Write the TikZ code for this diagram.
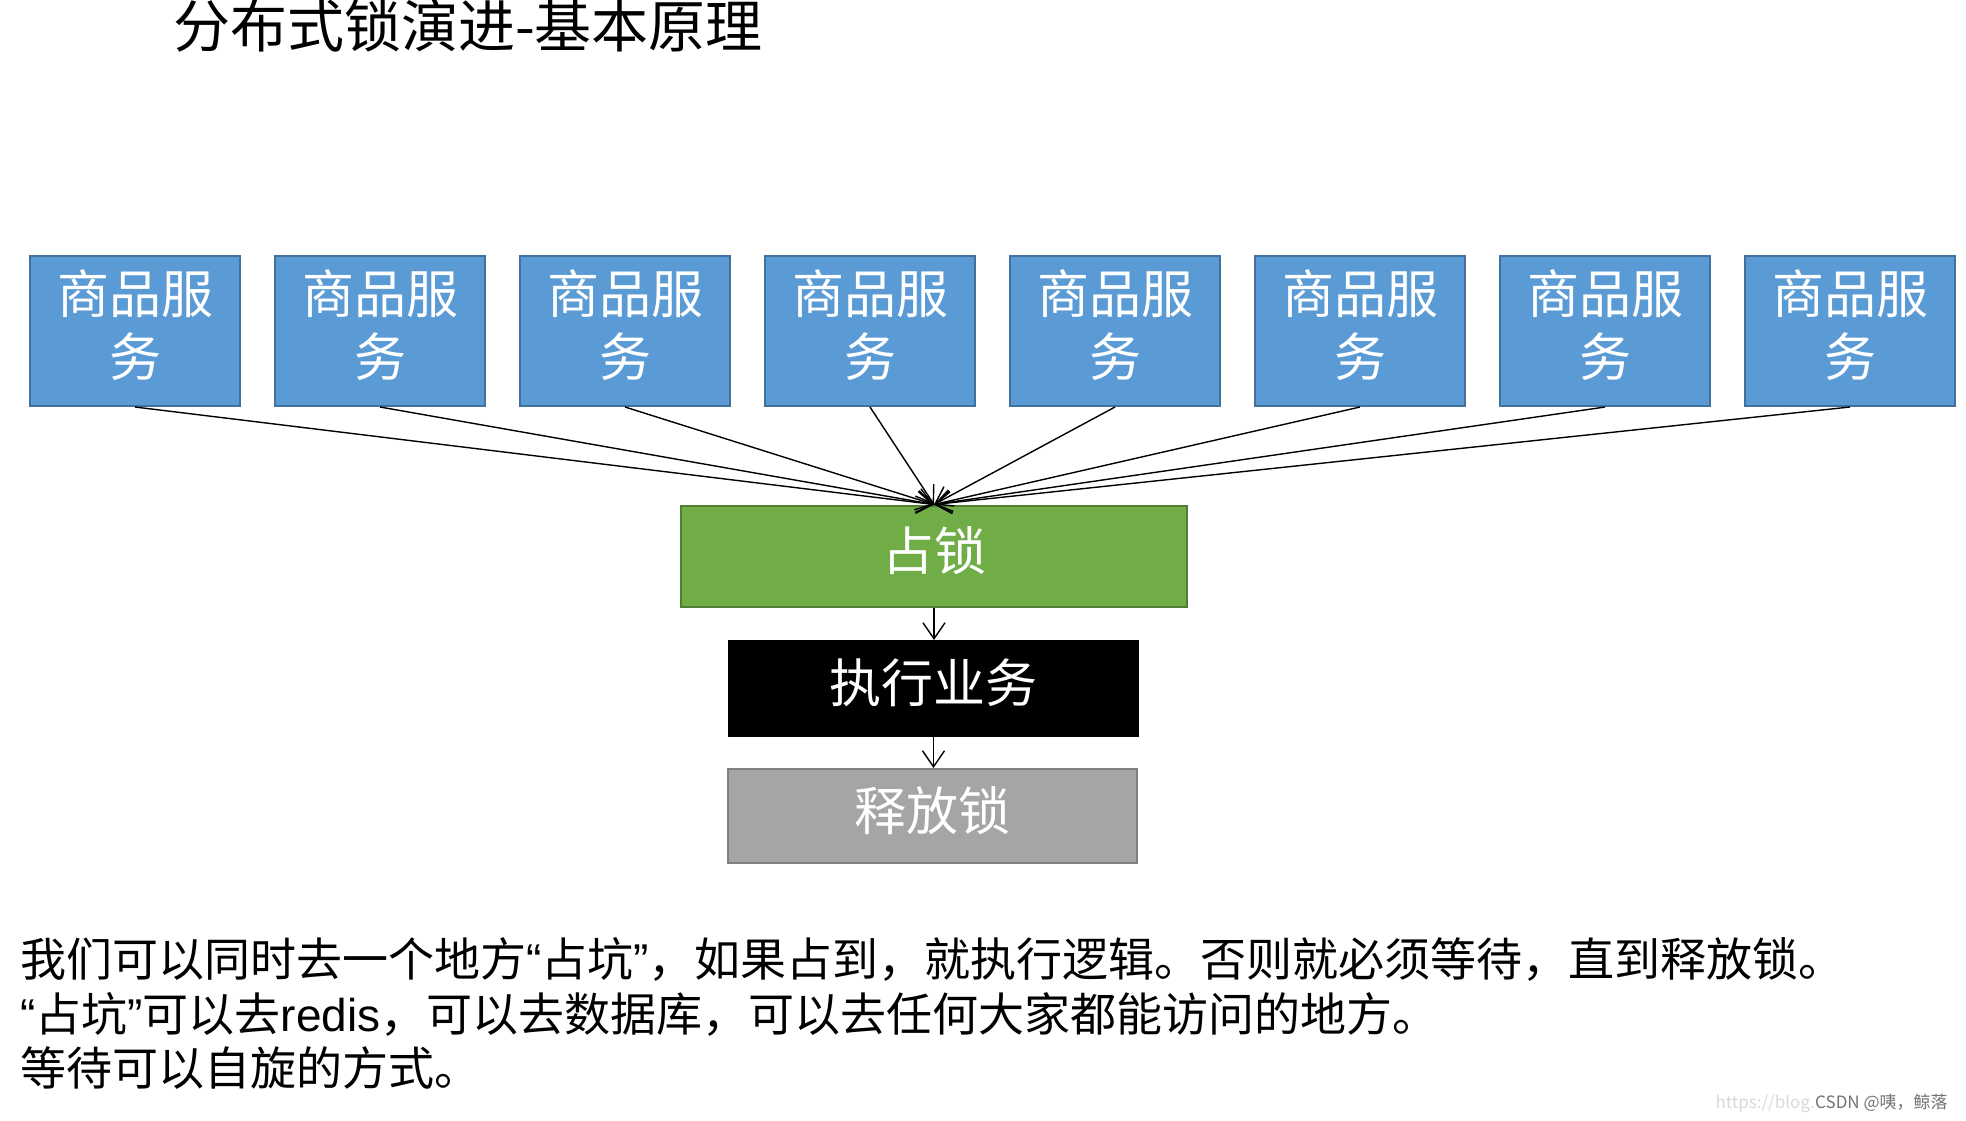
\documentclass[tikz,border=0pt]{standalone}
\usepackage{fontspec}
\setmainfont{Noto Sans CJK SC}
\newfontfamily\latinfont{Liberation Sans}
\usetikzlibrary{arrows.meta}

\definecolor{svcblue}{HTML}{5B9BD5}
\definecolor{svcedge}{HTML}{41719C}
\definecolor{lockgreen}{HTML}{70AD47}
\definecolor{lockedge}{HTML}{507E32}
\definecolor{relgray}{HTML}{A5A5A5}
\definecolor{reledge}{HTML}{7F7F7F}

% narrow western quotes inside the chinese text
\newcommand{\openq}{{\latinfont “}}
\newcommand{\closeq}{{\latinfont ”}}

\begin{document}
\begin{tikzpicture}[x=1pt,y=-1pt,
  svc/.style={draw=svcedge, line width=2pt, fill=svcblue, minimum width=210pt,
    minimum height=150pt, inner sep=0pt},
  boxtext/.style={inner sep=0pt, text=white, align=center, yshift=5.5pt,
    font=\fontsize{52}{63}\selectfont},
  stepbox/.style={line width=2pt, inner sep=0pt},
  flow/.style={draw=black, line width=1.4pt,
    -{Straight Barb[length=16pt,width=22pt]}},
  para/.style={anchor=base west, inner sep=0pt, font=\fontsize{46}{54}\selectfont}
]
\fill[white] (0,0) rectangle (1966,1121);
\useasboundingbox (0,0) rectangle (1966,1121);

% title
\node[anchor=base west, inner sep=0pt, font=\fontsize{57}{60}\selectfont] (title)
  at (173,48) {分布式锁演进-基本原理};

% lock / business / release chain
\node[stepbox, draw=lockedge, fill=lockgreen, minimum width=506pt, minimum height=101pt]
  (lock) at (934,556) {};
\node[boxtext] (lockt) at (lock.center) {占锁};
\node[stepbox, draw=black, fill=black, minimum width=409pt, minimum height=95pt]
  (exec) at (933.5,688.5) {};
\node[boxtext] (exect) at (exec.center) {执行业务};
\node[stepbox, draw=reledge, fill=relgray, minimum width=409pt, minimum height=94pt]
  (release) at (932.5,816) {};
\node[boxtext] (releaset) at (release.center) {释放锁};

\draw[flow] (lock.south) -- (lock.south |- exec.north);
\draw[flow] (exec.south) -- (exec.south |- release.north);

% service instances all contending for the lock
\foreach \k in {0,...,7} {
  \node[svc] (s\k) at ({135+245*\k},331) {};
  \node[boxtext] (s\k t) at (s\k.center) {商品服\\务};
  \draw[flow] (s\k.south) -- (lock.north);
}

% explanation
\node[para] (l1) at (20,976) {我们可以同时去一个地方\openq 占坑\closeq ，如果占到，就执行逻辑。否则就必须等待，直到释放锁。};
\node[para] (l2) at (20,1031) {\openq 占坑\closeq 可以去{\latinfont redis}，可以去数据库，可以去任何大家都能访问的地方。};
\node[para] (l3) at (20,1085) {等待可以自旋的方式。};

% watermark
\node[anchor=base west, inner sep=0pt, text=black!55, font=\fontsize{17}{17}\selectfont]
  (wm) at (1815,1108) {CSDN @咦，鲸落};
\node[anchor=base east, inner sep=0pt, text=black!15, font=\fontsize{17}{17}\selectfont]
  (url) at (wm.base west) {https://blog.};
\end{tikzpicture}
\end{document}
